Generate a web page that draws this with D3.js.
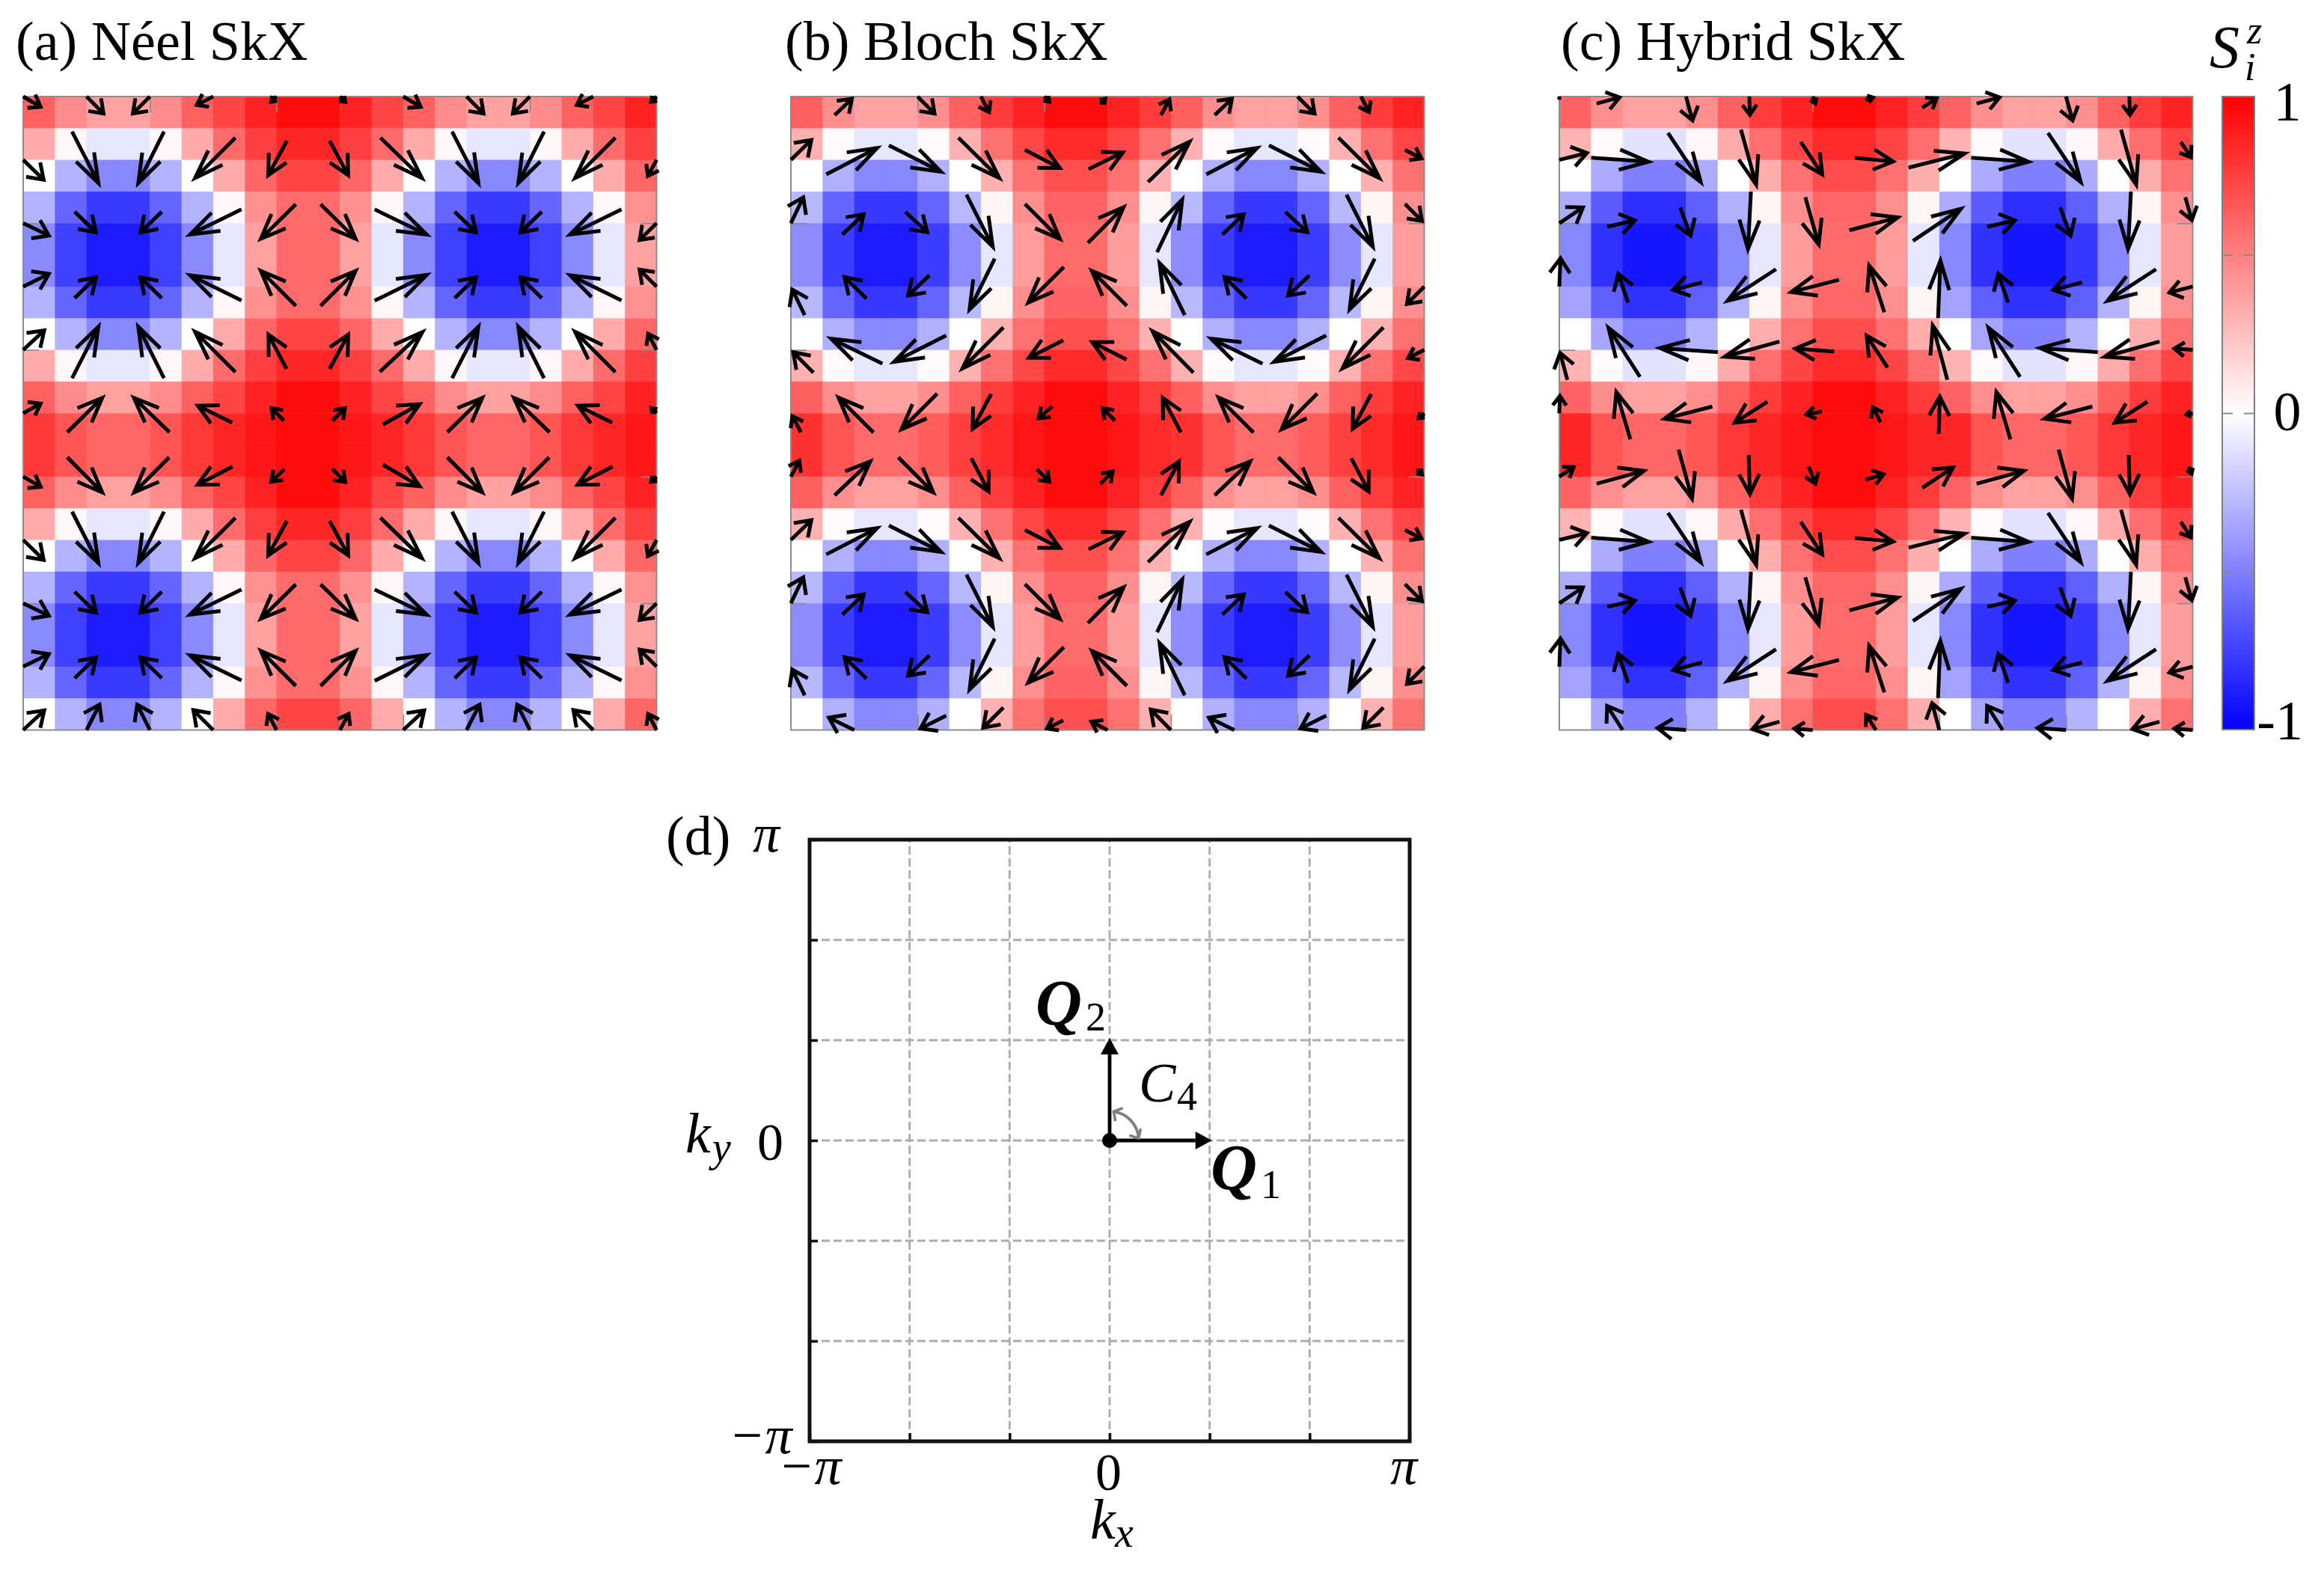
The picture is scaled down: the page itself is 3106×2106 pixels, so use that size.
<!DOCTYPE html>
<html>
<head>
<meta charset="utf-8">
<title>SkX</title>
<script src="https://cdnjs.cloudflare.com/ajax/libs/d3/7.8.5/d3.min.js"></script>
<style>
    html, body { margin: 0; padding: 0; background: #fff; }
    svg { display: block; }
    text { font-family: "Liberation Serif", serif; fill: #000; }
</style>
</head>
<body>
<svg id="app" width="3106" height="2106"></svg>
<script>
// Sz per cell, one magnetic unit cell (12 x 12), the panels repeat it
const neelSz = [
    [.62, .45, .37, .37, .45, .62, .73, .87, .95, .95, .87, .73],
    [.33, .03, -.1, -.1, .03, .33, .58, .75, .85, .85, .75, .58],
    [0, -.3, -.47, -.47, -.3, 0, .33, .6, .73, .73, .6, .33],
    [-.3, -.6, -.77, -.77, -.6, -.3, .03, .43, .58, .58, .43, .03],
    [-.46, -.75, -.88, -.88, -.75, -.46, -.1, .37, .59, .59, .37, -.1],
    [-.46, -.75, -.88, -.88, -.75, -.46, -.1, .37, .59, .59, .37, -.1],
    [-.3, -.6, -.77, -.77, -.6, -.3, .03, .43, .58, .58, .43, .03],
    [0, -.3, -.47, -.47, -.3, 0, .33, .6, .73, .73, .6, .33],
    [.33, .03, -.1, -.1, .03, .33, .58, .75, .85, .85, .75, .58],
    [.62, .45, .37, .37, .45, .62, .73, .87, .95, .95, .87, .73],
    [.78, .67, .6, .6, .67, .78, .85, .93, .97, .97, .93, .85],
    [.78, .67, .6, .6, .67, .78, .85, .93, .97, .97, .93, .85],
];

const blochSz = [
    [.63, .44, .37, .37, .44, .62, .76, .87, .94, .94, .87, .76],
    [.31, .02, -.1, -.1, .02, .31, .56, .72, .83, .83, .72, .56],
    [0, -.31, -.47, -.47, -.31, 0, .31, .56, .69, .69, .56, .31],
    [-.28, -.6, -.78, -.78, -.6, -.28, .04, .44, .61, .61, .44, .04],
    [-.45, -.76, -.88, -.88, -.76, -.45, -.1, .39, .58, .58, .39, -.1],
    [-.45, -.76, -.88, -.88, -.76, -.45, -.1, .39, .58, .58, .39, -.1],
    [-.28, -.6, -.78, -.78, -.6, -.28, .04, .44, .61, .61, .44, .04],
    [0, -.31, -.47, -.47, -.31, 0, .31, .56, .69, .69, .56, .31],
    [.31, .02, -.1, -.1, .02, .31, .56, .72, .83, .83, .72, .56],
    [.63, .44, .37, .37, .44, .62, .76, .87, .94, .94, .87, .76],
    [.81, .67, .58, .58, .64, .75, .83, .92, .96, .96, .92, .83],
    [.81, .67, .58, .58, .64, .75, .83, .92, .96, .96, .92, .83],
];

const hybridSz = [
    [.61, .44, .37, .37, .44, .62, .76, .87, .94, .94, .87, .76],
    [.3, .02, -.11, -.11, .03, .33, .57, .73, .84, .84, .73, .57],
    [0, -.33, -.5, -.5, -.33, 0, .32, .56, .7, .7, .56, .32],
    [-.33, -.64, -.82, -.82, -.62, -.31, .04, .44, .6, .6, .44, .04],
    [-.47, -.8, -.9, -.9, -.78, -.47, -.1, .39, .58, .58, .39, -.1],
    [-.47, -.8, -.9, -.9, -.78, -.47, -.1, .39, .58, .58, .39, -.1],
    [-.36, -.62, -.8, -.8, -.62, -.3, .04, .44, .6, .6, .44, .04],
    [0, -.35, -.5, -.5, -.3, 0, .32, .56, .7, .7, .56, .32],
    [.3, .02, -.11, -.11, .03, .33, .57, .73, .84, .84, .73, .57],
    [.61, .44, .37, .37, .44, .62, .76, .87, .94, .94, .87, .76],
    [.85, .67, .6, .6, .66, .78, .85, .92, .97, .97, .92, .85],
    [.85, .67, .6, .6, .66, .78, .85, .92, .97, .97, .92, .85],
];

// in-plane spin on every second site (6 x 6 sites per unit cell), Sy points up
const neelSx = [
    [.63, .6, -.6, -.6, -.24, .24],
    [.71, .45, -.44, -.69, -.32, .32],
    [.89, .37, -.37, -.88, -.6, .6],
    [.89, .37, -.37, -.88, -.6, .6],
    [.73, .45, -.44, -.69, -.31, .32],
    [.63, .6, -.61, -.59, -.23, .23],
];
const neelSy = [
    [-.37, -.6, -.6, -.31, -.23, -.24],
    [-.69, -.88, -.88, -.69, -.59, -.59],
    [-.43, -.36, -.36, -.43, -.59, -.59],
    [.44, .36, .36, .43, .6, .6],
    [.68, .88, .88, .69, .59, .59],
    [.35, .59, .59, .29, .23, .23],
];

const blochSx = [
    [.31, .61, .6, .3, .23, .23],
    [.71, .87, .89, .7, .6, .59],
    [.43, .37, .38, .45, .6, .61],
    [-.43, -.38, -.37, -.43, -.61, -.6],
    [-.7, -.88, -.89, -.7, -.59, -.59],
    [-.31, -.6, -.61, -.32, -.25, -.23],
];
const blochSy = [
    [.58, .58, -.6, -.57, -.23, .23],
    [.69, .45, -.45, -.69, -.31, .29],
    [.9, .35, -.35, -.89, -.6, .61],
    [.89, .37, -.35, -.87, -.61, .6],
    [.71, .43, -.45, -.7, -.3, .3],
    [.59, .6, -.61, -.6, -.22, .23],
];

const hybridSx = [
    [.53, .81, .23, .02, .12, .33],
    [.96, .98, .56, .26, .37, .66],
    [.82, .48, .18, -.05, .23, .83],
    [.04, -.17, -.5, -.83, -.82, -.26],
    [-.25, -.54, -.99, -.94, -.67, -.36],
    [.02, -.24, -.82, -.56, -.29, -.14],
];
const hybridSy = [
    [.35, .22, -.84, -.67, -.31, .1],
    [.24, -.07, -.84, -.94, -.56, -.06],
    [.55, .11, -.49, -.98, -.81, .22],
    [.98, .5, -.13, -.54, -.21, .8],
    [.93, .84, .07, -.26, .05, .55],
    [.64, .81, -.21, -.36, -.06, .28],
];

const panelTitles = ["(a) Néel SkX", "(b) Bloch SkX", "(c) Hybrid SkX"];
const colorbarTicks = [-1, -.5, 0, .5, 1];
const colorbarLabels = ["-1", "0", "1"];
const kGrid = [-3, -2, -1, 0, 1, 2, 3];   // in units of pi/3
const Q1 = [1, 0];                        // in units of pi/3
const Q2 = [0, 1];

const nCells = 20;
const period = 12;
const arrowScale = 2.03;   // cells per unit spin

const svg = d3.select("#app");
const color = d3.scaleLinear().domain([-1, 0, 1]).range(["#0000ff", "#ffffff", "#ff0000"]);

const defs = svg.append("defs");
// the maps were pasted in as a raster, edges are a little soft
defs.append("filter").attr("id", "soft")
    .attr("filterUnits", "userSpaceOnUse")
    .attr("x", 0).attr("y", 100).attr("width", 3106).attr("height", 900)
    .append("feGaussianBlur").attr("stdDeviation", .7);

function drawTitle(x, y, str) {
    svg.append("text").attr("x", x).attr("y", y).attr("font-size", 74).text(str);
}

// keep the part of a segment inside the box
function clipSegment(x1, y1, x2, y2, box) {
    let t0 = 0, t1 = 1;
    const dx = x2 - x1, dy = y2 - y1;
    const tests = [[-dx, x1 - box.x0], [dx, box.x1 - x1], [-dy, y1 - box.y0], [dy, box.y1 - y1]];
    for (const [p, q] of tests) {
        if (p === 0) {
            if (q < 0) return null;
        } else if (p < 0) {
            t0 = Math.max(t0, q / p);
        } else {
            t1 = Math.min(t1, q / p);
        }
    }
    if (t0 >= t1) return null;
    return [x1 + t0 * dx, y1 + t0 * dy, x1 + t1 * dx, y1 + t1 * dy];
}

function drawPanel(left, sz, sx, sy, title, titleX) {
    const top = 129, size = 846.5;
    const x = d3.scaleLinear().domain([0, nCells]).range([left, left + size]);
    const y = d3.scaleLinear().domain([0, nCells]).range([top, top + size]);
    const box = {x0: left, x1: left + size, y0: top, y1: top + size};

    const cells = [];
    d3.range(nCells).forEach(r => d3.range(nCells).forEach(c => {
        cells.push({r, c, v: sz[r % period][c % period]});
    }));

    const g = svg.append("g").attr("filter", "url(#soft)");
    g.selectAll("rect.cell").data(cells).join("rect")
        .attr("class", "cell")
        .attr("x", d => x(d.c))
        .attr("y", d => y(d.r))
        .attr("width", x(1) - x(0) + .5)
        .attr("height", y(1) - y(0) + .5)
        .attr("fill", d => color(d.v));

    // short inner ticks of the map
    const tickVals = [4, 8, 12, 16];
    const axes = [
        [d3.axisLeft(y), left, top], [d3.axisRight(y), left + size, top],
        [d3.axisTop(x), left, top], [d3.axisBottom(x), left, top + size],
    ];
    axes.forEach(([axis, tx, ty], i) => {
        const a = g.append("g")
            .attr("transform", i < 2 ? `translate(${tx},0)` : `translate(0,${ty})`)
            .call(axis.tickValues(tickVals).tickSize(-21).tickFormat(""));
        a.select(".domain").remove();
        a.selectAll("line").attr("stroke", "#8a8a8a").attr("stroke-width", 1.6);
    });

    const arrows = [];
    d3.range(0, nCells + 1, 2).forEach(r => d3.range(0, nCells + 1, 2).forEach(c => {
        const i = (r / 2) % (period / 2), j = (c / 2) % (period / 2);
        const hx = sx[i][j] * arrowScale / 2, hy = sy[i][j] * arrowScale / 2;
        const seg = clipSegment(x(c - hx), y(r + hy), x(c + hx), y(r - hy), box);
        if (seg) arrows.push(seg);
    }));

    g.selectAll("rect.frame").data([0]).join("rect")
        .attr("class", "frame")
        .attr("x", left).attr("y", top)
        .attr("width", size).attr("height", size)
        .attr("fill", "none")
        .attr("stroke", "#8c8c8c")
        .attr("stroke-width", 2);

    const lineW = 5;
    const arrowG = g.append("g").attr("fill", "none").attr("stroke", "#000")
        .attr("stroke-width", lineW);
    arrowG.selectAll("path").data(arrows).join("path")
        .attr("stroke-miterlimit", 6)
        .attr("d", ([x1, y1, x2, y2]) => {
            const len = Math.hypot(x2 - x1, y2 - y1) || 1;
            const ux = (x2 - x1) / len, uy = (y2 - y1) / len;
            const back = .46 * len, perp = Math.min(13.5, .33 * len);
            // pull the mitred tip back so that it ends on the vector's end
            const pull = (lineW / 2) * Math.hypot(back, perp) / perp;
            const tx = x2 - ux * pull, ty = y2 - uy * pull;
            const bx = tx - ux * back, by = ty - uy * back;
            return `M${x1},${y1}L${tx},${ty}` +
                `M${bx - uy * perp},${by + ux * perp}L${tx},${ty}L${bx + uy * perp},${by - ux * perp}`;
        });

    drawTitle(titleX, 80, title);
}

drawPanel(31, neelSz, neelSx, neelSy, panelTitles[0], 21);
drawPanel(1057, blochSz, blochSx, blochSy, panelTitles[1], 1049);
drawPanel(2084, hybridSz, hybridSx, hybridSy, panelTitles[2], 2086);

// colorbar
const barX = 2970, barW = 43;
const barY = d3.scaleLinear().domain([-1, 1]).range([975, 129]);
const grad = defs.append("linearGradient").attr("id", "szGrad")
    .attr("x1", 0).attr("x2", 0).attr("y1", 1).attr("y2", 0);
grad.selectAll("stop").data(colorbarTicks).join("stop")
    .attr("offset", d => (d + 1) / 2)
    .attr("stop-color", d => color(d));
svg.append("rect")
    .attr("x", barX).attr("y", barY(1))
    .attr("width", barW).attr("height", barY(-1) - barY(1))
    .attr("fill", "url(#szGrad)")
    .attr("stroke", "#7f7f7f")
    .attr("stroke-width", 2);
[[d3.axisRight(barY), barX], [d3.axisLeft(barY), barX + barW]].forEach(([axis, tx]) => {
    const a = svg.append("g").attr("transform", `translate(${tx},0)`)
        .call(axis.tickValues([-.5, 0, .5]).tickSize(14).tickFormat(""));
    a.select(".domain").remove();
    a.selectAll("line").attr("stroke", "#8a8a8a").attr("stroke-width", 2);
    // ticks go into the bar
    a.selectAll("line").attr("x2", tx === barX ? 14 : -14);
});
const labelShift = {"-1": 13, "0": 23, "1": 32};
svg.selectAll("text.cbar").data(colorbarLabels).join("text")
    .attr("class", "cbar")
    .attr("x", 3057)
    .attr("y", d => barY(+d) + labelShift[d])
    .attr("text-anchor", d => d === "-1" ? "end" : "middle")
    .attr("dx", d => d === "-1" ? 21 : 0)
    .attr("font-size", 74)
    .text(d => d);

// S_i^z
svg.append("text").attr("x", 2953).attr("y", 90).attr("font-size", 80).attr("font-style", "italic").text("S");
svg.append("text").attr("x", 3003).attr("y", 58).attr("font-size", 52).attr("font-style", "italic").text("z");
svg.append("text").attr("x", 3000).attr("y", 107).attr("font-size", 52).attr("font-style", "italic").text("i");

// panel (d)
const kUnit = Math.PI / 3;
const kx = d3.scaleLinear().domain([-Math.PI, Math.PI]).range([1082, 1884]);
const ky = d3.scaleLinear().domain([-Math.PI, Math.PI]).range([1926, 1122]);
const kTicks = kGrid.map(k => k * kUnit);

const gridG = svg.append("g").attr("stroke", "#acacac").attr("stroke-width", 2.8).attr("stroke-dasharray", "11,5");
gridG.selectAll("line.gx").data(kTicks.slice(1, -1)).join("line")
    .attr("class", "gx")
    .attr("x1", d => kx(d)).attr("x2", d => kx(d))
    .attr("y1", ky(-Math.PI)).attr("y2", ky(Math.PI));
gridG.selectAll("line.gy").data(kTicks.slice(1, -1)).join("line")
    .attr("class", "gy")
    .attr("x1", kx(-Math.PI)).attr("x2", kx(Math.PI))
    .attr("y1", d => ky(d)).attr("y2", d => ky(d));

const ax = svg.append("g").attr("transform", `translate(0,${ky(-Math.PI)})`)
    .call(d3.axisBottom(kx).tickValues(kTicks).tickSize(-11).tickFormat(""));
const ay = svg.append("g").attr("transform", `translate(${kx(-Math.PI)},0)`)
    .call(d3.axisLeft(ky).tickValues(kTicks).tickSize(-11).tickFormat(""));
[ax, ay].forEach(a => {
    a.select(".domain").remove();
    a.selectAll("line").attr("stroke", "#111").attr("stroke-width", 3.5);
});
svg.append("rect")
    .attr("x", kx(-Math.PI)).attr("y", ky(Math.PI))
    .attr("width", kx(Math.PI) - kx(-Math.PI)).attr("height", ky(-Math.PI) - ky(Math.PI))
    .attr("fill", "none").attr("stroke", "#111").attr("stroke-width", 5);

// Q vectors
const origin = [kx(0), ky(0)];
[Q1, Q2].forEach(q => {
    const tx = kx(q[0] * kUnit) + q[0] * 3, ty = ky(q[1] * kUnit) - q[1] * 3;
    const len = Math.hypot(tx - origin[0], ty - origin[1]);
    const ux = (tx - origin[0]) / len, uy = (ty - origin[1]) / len;
    const headLen = 22, headW = 12;
    const bx = tx - ux * headLen, by = ty - uy * headLen;
    svg.append("line")
        .attr("x1", origin[0]).attr("y1", origin[1]).attr("x2", bx).attr("y2", by)
        .attr("stroke", "#000").attr("stroke-width", 4.8);
    svg.append("path")
        .attr("d", `M${tx},${ty}L${bx - uy * headW},${by + ux * headW}L${bx + uy * headW},${by - ux * headW}Z`)
        .attr("fill", "#000");
});
svg.append("circle").attr("cx", origin[0]).attr("cy", origin[1]).attr("r", 10).attr("fill", "#000");

// C4 arc between the two vectors
const arcR = 39;
const arcFrom = [origin[0] + arcR * Math.sin(.14), origin[1] - arcR * Math.cos(.14)];
const arcTo = [origin[0] + arcR * Math.cos(.08), origin[1] - arcR * Math.sin(.08)];
svg.append("path")
    .attr("d", `M${arcFrom[0]},${arcFrom[1]}A${arcR},${arcR} 0 0 1 ${arcTo[0]},${arcTo[1]}`)
    .attr("fill", "none").attr("stroke", "#808080").attr("stroke-width", 4);
[[arcFrom, [.93, -.36], [.17, .98]], [arcTo, [.2, -.98], [-.96, -.28]]].forEach(([p, a, b]) => {
    svg.append("path")
        .attr("d", `M${p[0] + a[0] * 13},${p[1] + a[1] * 13}L${p[0]},${p[1]}L${p[0] + b[0] * 13},${p[1] + b[1] * 13}`)
        .attr("fill", "none").attr("stroke", "#808080").attr("stroke-width", 3.6);
});

// labels of panel (d)
function label(x, y, str, size, style, weight) {
    svg.append("text").attr("x", x).attr("y", y).attr("font-size", size)
        .attr("font-style", style || "normal")
        .attr("font-weight", weight || "normal")
        .text(str);
}
drawTitle(890, 1142, "(d)");
label(1006, 1138, "π", 72, "italic");
label(1012, 1550, "0", 70);
label(916, 1540, "k", 76, "italic");
label(952, 1552, "y", 56, "italic");
label(974, 1942, "−π", 72, "italic");
label(1040, 1983, "−π", 72, "italic");
label(1464, 1991, "0", 70);
label(1858, 1983, "π", 72, "italic");
label(1457, 2056, "k", 76, "italic");
label(1490, 2067, "x", 56, "italic");
label(1384, 1369, "Q", 86, "italic", "bold");
label(1451, 1377, "2", 54);
label(1618, 1589, "Q", 86, "italic", "bold");
label(1685, 1601, "1", 54);
label(1522, 1472, "C", 74, "italic");
label(1573, 1483, "4", 54);
</script>
</body>
</html>
